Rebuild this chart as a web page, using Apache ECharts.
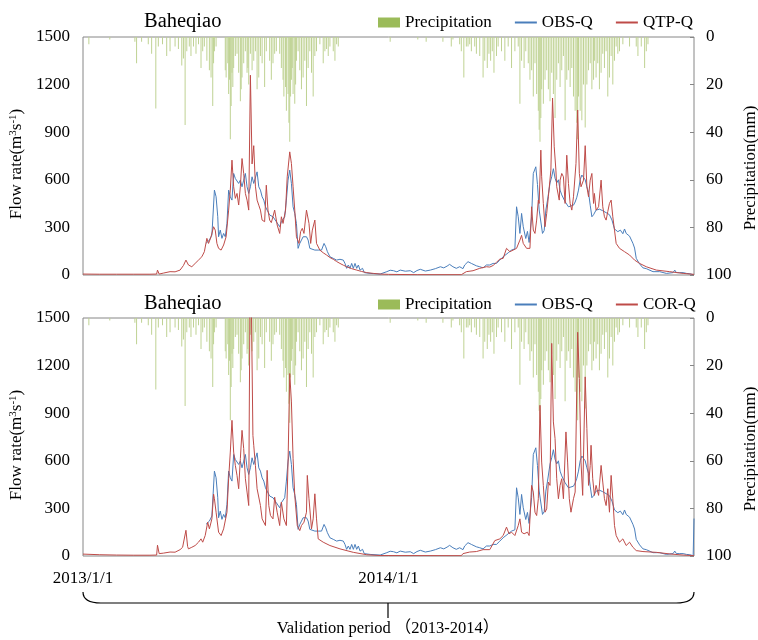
<!DOCTYPE html>
<html>
<head>
<meta charset="utf-8">
<script src="https://cdn.jsdelivr.net/npm/echarts@6/dist/echarts.min.js"></script>
<style>
html,body{margin:0;padding:0;background:#fff;}
#chart{width:758px;height:640px;}
</style>
</head>
<body>
<div id="chart"></div>
<script>
// day index counted from 2013/1/1
var tickDays = [0, 365];
var tickLabels = ['2013/1/1', '2014/1/1'];

// daily precipitation (mm), [day, value]
var precipitation = [
	[7,3],[32,1],[62,2],[64,11],[70,2],[78,3],[82,7],[87,30],[90,4],[95,3],[100,8],[104,6],[110,4],[114,5],
	[118,12],[120,9],[122,37],[124,6],[127,4],[129,8],[132,4],[135,7],[138,3],[141,13],[143,6],[145,4],[148,10],
	[151,14],[153,17],[155,29],[156,11],[157,6],[159,4],[170,14],[171,17],[173,11],[174,24],[175,18],[176,43],
	[177,29],[178,15],[179,21],[180,13],[182,8],[184,7],[186,15],[188,27],[189,22],[190,17],[192,11],[194,6],
	[196,15],[197,13],[198,20],[200,7],[202,14],[204,10],[206,6],[208,22],[210,17],[212,8],[214,11],[217,21],
	[219,6],[223,10],[225,18],[227,11],[229,7],[231,6],[235,7],[237,13],[239,18],[240,25],[242,21],[243,31],
	[245,24],[246,36],[247,44],[248,25],[249,18],[250,13],[251,24],[253,28],[254,20],[255,10],[257,6],[259,14],
	[261,22],[263,17],[265,10],[267,29],[269,13],[271,6],[273,15],[275,25],[277,8],[279,6],[283,3],[287,11],
	[289,6],[291,5],[293,8],[295,4],[299,6],[301,10],[303,3],[305,4],
	[367,2],[400,1],[410,2],[430,2],[440,4],[442,1],[450,3],[452,6],[455,17],[458,4],[460,4],[462,3],[464,6],
	[468,4],[470,7],[474,8],[478,17],[480,10],[483,13],[485,7],[487,10],[489,6],[491,15],[494,8],[496,4],
	[500,6],[504,10],[508,4],[512,13],[516,6],[520,4],[522,28],[524,10],[527,13],[529,6],[532,11],[534,18],
	[536,14],[538,25],[540,11],[542,24],[544,31],[545,39],[546,44],[547,34],[548,22],[550,28],[552,18],[554,14],
	[556,22],[558,27],[560,15],[562,24],[564,34],[566,18],[568,11],[570,21],[572,14],[574,8],[576,35],[578,18],
	[580,14],[582,21],[584,13],[586,25],[588,31],[590,36],[591,43],[592,25],[594,31],[596,35],[598,20],[600,38],
	[602,20],[604,14],[606,11],[608,22],[610,18],[611,10],[613,17],[615,11],[617,22],[619,15],[621,7],[623,13],
	[625,6],[627,25],[629,17],[631,8],[633,20],[635,10],[637,4],[639,7],[641,6],[645,3],[653,4],[661,4],[663,8],
	[667,4],[671,13],[673,6],[675,3]
];

// observed flow (m3/s)
var obsQ = [
	[147,200],[151,220],[154,252],[157,535],[159,493],[161,367],[162,241],[164,283],[166,231],[168,262],[170,241],
	[172,325],[174,535],[176,493],[178,472],[180,640],[182,608],[184,619],[186,577],[188,598],[190,556],[192,598],
	[194,640],[196,556],[198,514],[200,556],[202,619],[204,577],[206,587],[208,650],[210,556],[212,535],[214,493],
	[216,472],[218,430],[220,409],[221,399],[223,378],[225,367],[227,367],[229,378],[231,336],[233,325],[235,304],
	[237,336],[239,325],[241,367],[243,472],[245,598],[247,661],[249,577],[251,430],[253,388],[255,325],[257,168],
	[259,199],[261,220],[263,241],[265,231],[267,241],[269,220],[271,168],[273,157],[277,157],[281,157],[285,157],
	[288,199],[290,178],[292,147],[295,115],[299,105],[303,94],[305,105],[307,99],[311,94],[313,73],[315,42],
	[317,63],[319,42],[321,73],[323,42],[325,73],[327,42],[329,63],[331,31],[334,42],[336,15],[343,10],[355,6],
	[363,21],[367,30],[371,27],[375,20],[379,31],[385,24],[391,27],[395,15],[399,28],[403,36],[409,25],[415,31],
	[421,40],[427,52],[431,45],[435,56],[438,67],[442,52],[446,42],[450,52],[454,40],[456,63],[460,84],[464,73],
	[470,58],[474,52],[478,45],[482,63],[486,63],[490,73],[494,73],[498,94],[502,115],[504,115],[508,140],
	[512,157],[516,165],[518,430],[520,367],[522,262],[524,388],[526,304],[529,230],[531,275],[533,205],[536,367],
	[538,640],[541,682],[543,570],[545,410],[547,410],[549,262],[551,280],[553,409],[555,472],[558,580],[560,619],
	[562,670],[564,610],[566,580],[568,600],[570,535],[572,505],[574,493],[576,462],[578,455],[580,430],[582,435],
	[586,440],[588,460],[590,490],[592,535],[594,600],[596,630],[598,615],[600,600],[602,556],[604,520],[606,440],
	[608,367],[610,380],[613,409],[617,415],[621,405],[625,393],[627,398],[629,380],[632,346],[635,290],[637,300],
	[639,273],[642,283],[645,260],[647,290],[649,262],[651,255],[653,245],[657,200],[659,170],[661,105],[665,70],
	[669,45],[673,40],[681,21],[689,21],[697,10],[705,15],[707,31],[709,15],[713,15],[717,15],[721,10],[725,8],
	[729,2]
];
// last observed day, only drawn in the lower panel
var obsQEnd = [[730,236]];

// QTP driven simulation
var qtpQ = [
	[0,6],[20,5],[40,5],[60,5],[80,5],[88,6],[89,31],[91,6],[96,12],[104,21],[110,20],[116,31],[120,60],[123,94],
	[126,63],[130,52],[134,73],[138,94],[142,115],[145,147],[148,231],[150,199],[153,241],[156,304],[158,283],
	[160,199],[162,168],[165,157],[168,189],[171,241],[174,409],[176,535],[178,724],[180,556],[182,483],[184,514],
	[186,441],[188,556],[190,734],[192,640],[194,514],[196,472],[198,409],[200,1259],[202,700],[204,815],[206,560],
	[208,472],[210,440],[212,409],[214,346],[217,336],[219,566],[221,409],[223,346],[225,330],[227,325],[229,409],
	[232,315],[235,262],[237,367],[239,325],[242,409],[244,619],[247,776],[249,703],[251,556],[253,409],[255,241],
	[258,199],[260,273],[262,294],[264,262],[267,409],[270,325],[272,199],[274,283],[277,346],[279,199],[283,157],
	[287,140],[291,126],[295,110],[299,99],[303,85],[307,73],[311,62],[315,52],[321,40],[327,31],[333,22],[339,15],
	[347,10],[355,6],[365,4],[400,2],[452,2],[458,21],[466,27],[474,42],[482,52],[486,50],[490,60],[494,80],
	[498,100],[502,105],[506,168],[510,147],[514,157],[518,168],[522,220],[524,250],[526,199],[530,168],[534,168],
	[536,430],[538,283],[540,262],[542,346],[544,472],[545,451],[547,787],[548,619],[550,451],[552,304],[554,388],
	[556,493],[559,661],[561,1115],[563,808],[565,661],[566,556],[569,472],[570,598],[572,640],[574,619],[576,451],
	[578,755],[580,577],[582,451],[584,409],[586,493],[589,703],[591,1040],[593,640],[595,556],[598,598],[600,815],
	[602,556],[604,493],[606,598],[608,640],[610,451],[611,514],[613,409],[616,430],[619,598],[621,430],[623,367],
	[625,346],[627,400],[629,451],[631,472],[633,367],[635,283],[637,199],[641,168],[647,147],[653,126],[659,94],
	[665,73],[673,52],[685,31],[701,21],[717,10],[730,4]
];

// corrected-precipitation simulation
var corQ = [
	[0,12],[20,8],[40,6],[60,5],[80,5],[88,6],[89,68],[91,15],[96,18],[104,25],[110,24],[116,40],[119,55],[123,162],
	[125,60],[126,45],[130,55],[134,66],[138,87],[141,108],[143,87],[146,129],[149,213],[151,171],[154,234],[156,390],
	[157,361],[159,276],[162,150],[165,129],[168,171],[172,276],[174,487],[176,655],[178,855],[180,655],[182,571],
	[184,508],[186,424],[188,613],[190,792],[192,677],[194,487],[196,403],[198,318],[200,2100],[203,760],[204,698],
	[206,571],[208,424],[212,318],[214,234],[218,192],[220,540],[222,318],[224,255],[227,234],[229,371],[232,276],
	[235,192],[237,340],[240,234],[243,192],[245,592],[247,1150],[249,971],[251,613],[253,382],[256,192],[259,160],
	[261,192],[264,213],[267,276],[268,508],[270,361],[273,171],[275,234],[277,392],[279,234],[281,108],[287,87],
	[295,66],[307,45],[323,23],[339,8],[355,3],[452,2],[454,15],[462,25],[470,28],[478,40],[486,40],[492,97],
	[494,87],[498,108],[502,129],[506,182],[509,140],[512,150],[516,129],[518,140],[520,192],[522,234],[524,150],
	[527,140],[531,150],[533,129],[536,445],[538,403],[540,276],[542,255],[544,361],[546,950],[548,592],[550,445],
	[552,276],[554,297],[556,466],[558,445],[560,1340],[562,845],[564,740],[566,487],[568,361],[570,445],[572,487],
	[574,361],[577,782],[579,592],[581,361],[583,276],[586,361],[588,403],[591,1410],[593,1119],[595,592],[597,382],
	[600,1129],[602,803],[604,445],[606,571],[607,698],[609,487],[611,382],[613,445],[616,382],[619,571],[621,466],
	[623,361],[625,318],[627,424],[629,276],[631,508],[633,361],[635,192],[637,129],[641,87],[645,108],[649,66],
	[653,87],[657,55],[661,34],[669,28],[685,23],[701,13],[717,6],[730,2]
];

var FONT = '"Liberation Serif","Times New Roman",serif';
var BLUE = '#4a7ebb', RED = '#be4b48', GREEN = '#9bbb59';

function flowAxis(gridIndex){
	return {
		type: 'value', gridIndex: gridIndex, position: 'left',
		min: 0, max: 1500, interval: 300,
		axisLine: {show: false}, axisTick: {show: false}, splitLine: {show: false},
		axisLabel: {color: '#000', fontSize: 17, fontFamily: FONT, margin: 13,
			formatter: function(v){ return String(v); }},
		name: '{n|Flow rate(m}{s|3}{n|s}{s|-1}{n|)}',
		nameLocation: 'middle', nameGap: 37,
		nameTextStyle: {
			color: '#000',
			padding: [0, 16, 0, 0],
			rich: {
				n: {fontSize: 17, fontFamily: FONT, color: '#000', lineHeight: 18},
				s: {fontSize: 11, fontFamily: FONT, color: '#000', verticalAlign: 'top', lineHeight: 11}
			}
		}
	};
}

function rainAxis(gridIndex){
	return {
		type: 'value', gridIndex: gridIndex, position: 'right', inverse: true,
		min: 0, max: 100, interval: 20,
		axisLine: {show: false},
		axisTick: {show: true, inside: true, length: 4, lineStyle: {color: '#868686'}},
		splitLine: {show: false},
		axisLabel: {color: '#000', fontSize: 17, fontFamily: FONT, margin: 12},
		name: 'Precipitation(mm)', nameLocation: 'middle', nameGap: 47,
		nameTextStyle: {color: '#000', fontSize: 17, fontFamily: FONT, padding: [0, 24, 0, 0]}
	};
}

function dayAxis(gridIndex, showLabel){
	return {
		type: 'value', gridIndex: gridIndex, min: 0, max: 730, interval: 365,
		axisLine: {show: false}, axisTick: {show: false}, splitLine: {show: false},
		axisLabel: {
			show: showLabel, color: '#000', fontSize: 17, fontFamily: FONT, margin: 14,
			showMaxLabel: false,
			formatter: function(v){
				var i = tickDays.indexOf(v);
				return i >= 0 ? tickLabels[i] : '';
			}
		}
	};
}

function legendFor(top, simName){
	return {
		left: 373, top: top, itemWidth: 22, itemHeight: 10, itemGap: 22,
		textStyle: {color: '#000', fontSize: 17, fontFamily: FONT},
		data: [
			{name: 'Precipitation', icon: 'rect', itemStyle: {color: GREEN, opacity: 1}},
			{name: 'OBS-Q', itemStyle: {opacity: 0}},
			{name: simName, itemStyle: {opacity: 0}}
		]
	};
}

var myChart = echarts.init(document.getElementById('chart'));
var option = {
	backgroundColor: '#fff',
	animation: false,
	title: [
		{text: 'Baheqiao', left: 139, top: 6, textStyle: {fontSize: 20.5, fontWeight: 'normal', fontFamily: FONT, color: '#000'}},
		{text: 'Baheqiao', left: 139, top: 288, textStyle: {fontSize: 20.5, fontWeight: 'normal', fontFamily: FONT, color: '#000'}}
	],
	legend: [legendFor(9, 'QTP-Q'), legendFor(291, 'COR-Q')],
	grid: [
		{left: 83, top: 37, width: 611, height: 238, outerBoundsMode: 'none',
			show: true, borderColor: '#868686', borderWidth: 1},
		{left: 83, top: 318, width: 611, height: 238, outerBoundsMode: 'none',
			show: true, borderColor: '#868686', borderWidth: 1}
	],
	xAxis: [dayAxis(0, false), dayAxis(1, true)],
	yAxis: [flowAxis(0), rainAxis(0), flowAxis(1), rainAxis(1)],
	series: [
		{name: 'Precipitation', type: 'bar', xAxisIndex: 0, yAxisIndex: 1, barWidth: 1,
			itemStyle: {color: '#bfd293'}, data: precipitation},
		{name: 'OBS-Q', type: 'line', xAxisIndex: 0, yAxisIndex: 0, symbol: 'none',
			lineStyle: {color: BLUE, width: 1}, itemStyle: {color: BLUE}, data: obsQ},
		{name: 'QTP-Q', type: 'line', xAxisIndex: 0, yAxisIndex: 0, symbol: 'none',
			lineStyle: {color: RED, width: 1}, itemStyle: {color: RED}, data: qtpQ},
		{name: 'Precipitation', type: 'bar', xAxisIndex: 1, yAxisIndex: 3, barWidth: 1,
			itemStyle: {color: '#bfd293'}, data: precipitation},
		{name: 'OBS-Q', type: 'line', xAxisIndex: 1, yAxisIndex: 2, symbol: 'none',
			lineStyle: {color: BLUE, width: 1}, itemStyle: {color: BLUE}, data: obsQ.concat(obsQEnd)},
		{name: 'COR-Q', type: 'line', xAxisIndex: 1, yAxisIndex: 2, symbol: 'none',
			lineStyle: {color: RED, width: 1}, itemStyle: {color: RED}, data: corQ}
	],
	graphic: [
		// brace under the lower panel
		{type: 'bezierCurve', silent: true,
			shape: {x1: 83, y1: 592, cpx1: 83, cpy1: 600, cpx2: 89, cpy2: 603, x2: 101, y2: 603},
			style: {fill: null, stroke: '#000', lineWidth: 1.2}},
		{type: 'line', silent: true, shape: {x1: 101, y1: 603, x2: 676, y2: 603},
			style: {stroke: '#000', lineWidth: 1.2}},
		{type: 'bezierCurve', silent: true,
			shape: {x1: 676, y1: 603, cpx1: 688, cpy1: 603, cpx2: 694, cpy2: 600, x2: 694, y2: 592},
			style: {fill: null, stroke: '#000', lineWidth: 1.2}},
		{type: 'line', silent: true, shape: {x1: 388, y1: 603, x2: 388, y2: 618},
			style: {stroke: '#000', lineWidth: 1.2}},
		{type: 'text', silent: true,
			style: {text: 'Validation period （2013-2014）', x: 388, y: 629, align: 'center', verticalAlign: 'middle',
				fontSize: 16.5, fontFamily: '"Liberation Serif","Noto Sans CJK SC",serif', fill: '#000'}}
	]
};
myChart.setOption(option);
</script>
</body>
</html>
